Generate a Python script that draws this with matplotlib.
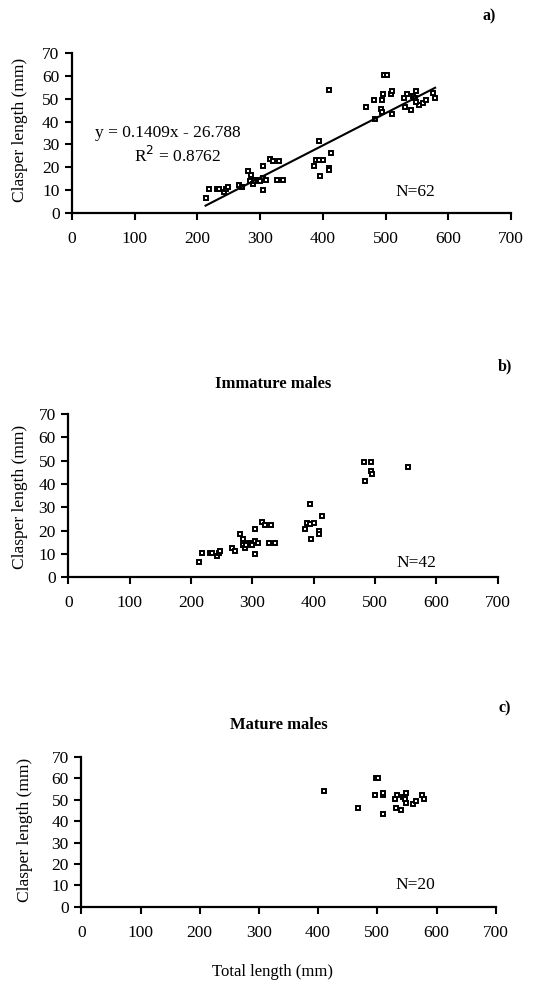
import numpy as np
import matplotlib
matplotlib.use("Agg")
import matplotlib.pyplot as plt

plt.rcParams["font.family"] = ["Liberation Serif", "DejaVu Serif"]

# immature males: total length (mm), clasper length (mm)
imm_tl = [213, 218, 231, 234, 242, 246, 248, 267, 271, 280, 285, 284, 288, 292,
          296, 299, 304, 305, 305, 310, 315, 320, 330, 327, 337, 386, 389, 394,
          394, 396, 400, 409, 409, 413, 482, 483, 494, 493, 495, 553, 300, 290]
imm_cl = [6.5, 10.4, 10.4, 10.4, 9.3, 10.4, 11.2, 12.4, 11.4, 18.5, 16.5, 13.8,
          12.6, 14.6, 14.6, 14.4, 15.4, 20.6, 10.2, 14.6, 23.6, 22.6, 22.6, 14.6,
          14.6, 20.6, 23.4, 23.0, 31.5, 16.3, 23.4, 19.8, 18.6, 26.4, 49.4, 41.2,
          49.4, 45.5, 44.2, 47.4, 13.8, 14.0]

# mature males
mat_tl = [410, 468, 496, 498, 502, 509, 510, 510, 530, 531, 534, 540, 544, 549,
          549, 547, 560, 565, 575, 579]
mat_cl = [54.0, 46.2, 52.1, 60.2, 60.2, 52.1, 53.4, 43.2, 50.2, 46.2, 52.1, 45.1,
          51.4, 53.4, 48.7, 50.2, 48.2, 49.5, 52.4, 50.2]

slope = 0.1409
intercept = -26.788
r2 = 0.8762

x_ticks = np.arange(0, 701, 100)
y_ticks = np.arange(0, 71, 10)

W, H = 538, 983


def px_axes(fig, left, right, top, bottom):
    return fig.add_axes([left / W, 1 - bottom / H, (right - left) / W, (bottom - top) / H])


def style(ax):
    ax.set_xlim(0, 700)
    ax.set_ylim(0, 70)
    ax.set_xticks(x_ticks)
    ax.set_yticks(y_ticks)
    for s in ["top", "right"]:
        ax.spines[s].set_visible(False)
    for s in ["left", "bottom"]:
        ax.spines[s].set_linewidth(1.6)
    ax.tick_params(axis="x", direction="out", length=5, width=1.5, pad=8, labelsize=12.5)
    ax.tick_params(axis="y", direction="out", length=5, width=1.5, pad=4, labelsize=12.5)
    ax.patch.set_alpha(0)


def scatter(ax, x, y):
    ax.plot(x, y, linestyle="none", marker="s", markersize=3.2,
            markerfacecolor="white", markeredgecolor="black", markeredgewidth=1.4,
            clip_on=False)


fig = plt.figure(figsize=(W / 100, H / 100), dpi=100)

# a) all males
ax1 = px_axes(fig, 72, 511, 53, 213)
style(ax1)
all_tl = np.array(imm_tl + mat_tl)
all_cl = np.array(imm_cl + mat_cl)
scatter(ax1, all_tl, all_cl)
xl = np.array([all_tl.min(), all_tl.max()])
ax1.plot(xl, slope * xl + intercept, color="black", lw=1.5)
ax1.text(153, 35, f"y = {slope}x - {abs(intercept)}", ha="center", va="center", fontsize=12.5)
ax1.text(169, 25, f"R$^2$ = {r2}", ha="center", va="center", fontsize=12.5)
ax1.text(547, 9.2, f"N={len(all_tl)}", ha="center", va="center", fontsize=12.5)
fig.text(489 / W, 1 - 16 / H, "a)", ha="center", va="center", fontsize=11.5, fontweight="bold")
fig.text(20 / W, 1 - 130 / H, "Clasper length (mm)", rotation=90, ha="center", va="center", fontsize=12.5)

# b) immature males
ax2 = px_axes(fig, 68.3, 497.7, 414, 577.3)
style(ax2)
scatter(ax2, imm_tl, imm_cl)
ax2.text(568, 6.1, f"N={len(imm_tl)}", ha="center", va="center", fontsize=12.5)
fig.text(505 / W, 1 - 366 / H, "b)", ha="center", va="center", fontsize=11.5, fontweight="bold")
fig.text(273 / W, 1 - 384 / H, "Immature males", ha="center", va="center", fontsize=12, fontweight="bold")
fig.text(20 / W, 1 - 497 / H, "Clasper length (mm)", rotation=90, ha="center", va="center", fontsize=12.5)

# c) mature males
ax3 = px_axes(fig, 81.3, 495.7, 757, 906.7)
style(ax3)
scatter(ax3, mat_tl, mat_cl)
ax3.text(564, 10.1, f"N={len(mat_tl)}", ha="center", va="center", fontsize=12.5)
fig.text(505 / W, 1 - 708 / H, "c)", ha="center", va="center", fontsize=11.5, fontweight="bold")
fig.text(279 / W, 1 - 725 / H, "Mature males", ha="center", va="center", fontsize=12, fontweight="bold")
fig.text(25 / W, 1 - 830 / H, "Clasper length (mm)", rotation=90, ha="center", va="center", fontsize=12.5)
fig.text(272 / W, 1 - 972 / H, "Total length (mm)", ha="center", va="center", fontsize=12)

fig.savefig("out.png", dpi=100)
